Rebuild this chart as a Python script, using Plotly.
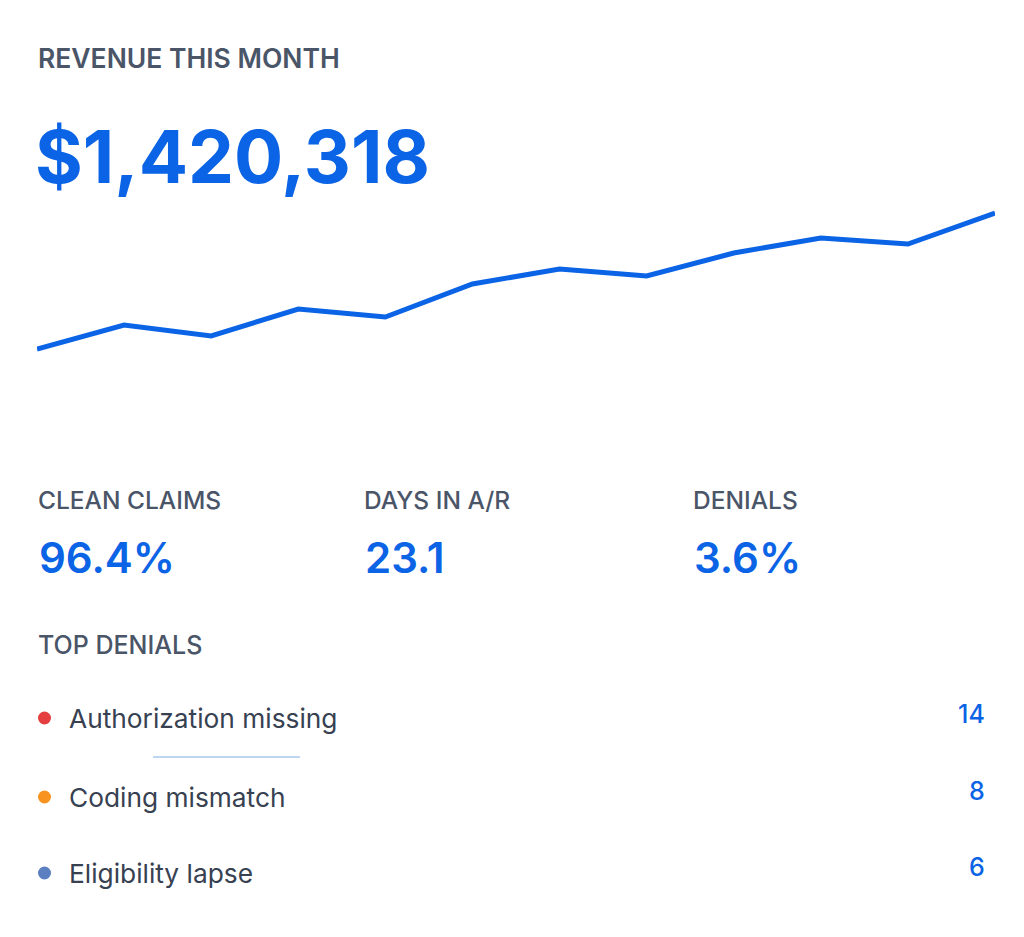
import plotly.graph_objects as go

# ---- data ----
periods = list(range(1, 13))
revenue_trend = [51, 75, 64, 91, 83, 116, 131, 124, 147, 162, 156, 187]

headline_label = "REVENUE THIS MONTH"
headline_value = "$1,420,318"

kpi_labels = ["CLEAN CLAIMS", "DAYS IN A/R", "DENIALS"]
kpi_values = ["96.4%", "23.1", "3.6%"]

section_label = "TOP DENIALS"
denial_reasons = ["Authorization missing", "Coding mismatch", "Eligibility lapse"]
denial_counts = [14, 8, 6]
denial_colors = ["#e53e3e", "#f7931e", "#5b7fc0"]

# ---- layout geometry (pixels, page coords; page body offsets figure by 8px) ----
OFF = 8
W, H = 1024, 937
PL, PR, PT, PB = 37 - OFF, 995 - OFF, 180 - OFF, 400 - OFF  # plot area in figure pixels

def px(x):
    return (x - OFF - PL) / (PR - PL)

def py(y):
    return (PB - (y - OFF)) / (PB - PT)

BLUE = "#0b63e5"
GRAY = "#4a5568"
DARK = "#374151"
FONT = "Inter"

fig = go.Figure()
fig.add_trace(go.Scatter(
    x=periods, y=revenue_trend, mode="lines",
    line=dict(color=BLUE, width=5), hoverinfo="skip", showlegend=False,
))

ann = []
ann.append(dict(x=px(36), y=py(58), text=headline_label, xanchor="left", yanchor="middle",
                font=dict(family=FONT, size=26.5, color=GRAY, weight=600)))
ann.append(dict(x=px(33), y=py(156), text=headline_value, xanchor="left", yanchor="middle",
                font=dict(family=FONT, size=73, color=BLUE, weight=700)))

kpi_x = [36, 362, 691]
for lx, lab, val in zip(kpi_x, kpi_labels, kpi_values):
    ann.append(dict(x=px(lx), y=py(500), text=lab, xanchor="left", yanchor="middle",
                    font=dict(family=FONT, size=24.5, color=GRAY, weight=500)))
    ann.append(dict(x=px(lx + 1), y=py(557), text=val, xanchor="left", yanchor="middle",
                    font=dict(family=FONT, size=42, color=BLUE, weight=600)))

ann.append(dict(x=px(36), y=py(645), text=section_label, xanchor="left", yanchor="middle",
                font=dict(family=FONT, size=25, color=GRAY, weight=500)))

row_y = [718, 797, 873]
num_y = [714, 791, 867]
shapes = []
for ry, ny, reason, cnt, col in zip(row_y, num_y, denial_reasons, denial_counts, denial_colors):
    ann.append(dict(x=px(67), y=py(ry), text=reason, xanchor="left", yanchor="middle",
                    font=dict(family=FONT, size=26.3, color=DARK, weight=400)))
    ann.append(dict(x=px(987), y=py(ny), text=str(cnt), xanchor="right", yanchor="middle",
                    font=dict(family=FONT, size=25, color=BLUE, weight=500)))
    shapes.append(dict(type="circle", xref="paper", yref="paper",
                       x0=px(38), x1=px(51), y0=py(ry + 6.5), y1=py(ry - 6.5),
                       fillcolor=col, line=dict(width=0)))

shapes.append(dict(type="line", xref="paper", yref="paper",
                   x0=px(153), x1=px(300), y0=py(757), y1=py(757),
                   line=dict(color="#a9c9ea", width=1.5)))

for a in ann:
    a.update(xref="paper", yref="paper", showarrow=False)

fig.update_layout(
    width=W, height=H,
    margin=dict(l=PL, r=W - PR, t=PT, b=H - PB, pad=0),
    paper_bgcolor="#ffffff", plot_bgcolor="#ffffff",
    xaxis=dict(range=[1, 12], visible=False, fixedrange=True),
    yaxis=dict(range=[0, 220], visible=False, fixedrange=True),
    annotations=ann, shapes=shapes,
    showlegend=False,
)

fig.write_html("out.html", config={"displayModeBar": False})
